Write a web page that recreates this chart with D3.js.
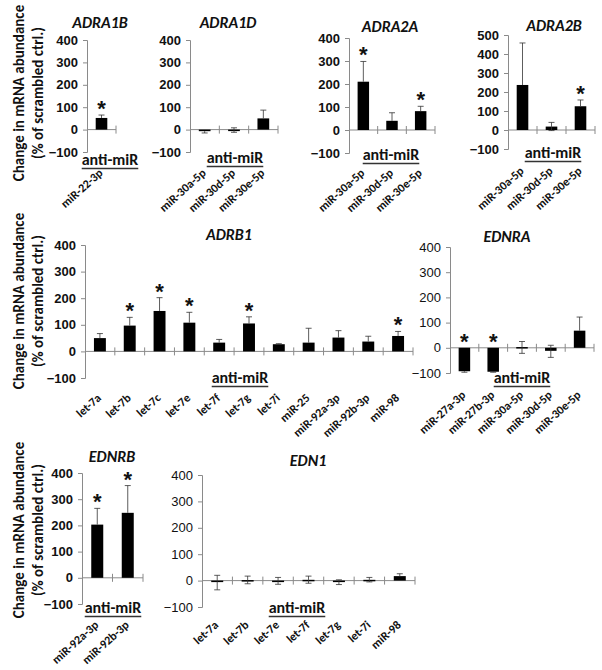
<!DOCTYPE html>
<html><head><meta charset="utf-8">
<script src="https://cdn.jsdelivr.net/npm/d3@7"></script>
<style>
body{margin:0;background:#fff;}
svg{font-family:Carlito,Calibri,Lato,"Open Sans",sans-serif;}
</style></head>
<body><svg id="c" width="602" height="670"></svg>
<script>
// ---- data ----
const adra1bCats = ["miR-22-3p"];
const adra1bVals = [52];
const adra1bHi = [65];
const adra1bLo = [null];
const adra1bSig = [true];

const adra1dCats = ["miR-30a-5p","miR-30d-5p","miR-30e-5p"];
const adra1dVals = [-7,-3,50];
const adra1dHi = [null,8,87];
const adra1dLo = [-15,-12,null];
const adra1dSig = [false,false,false];

const adra2aCats = ["miR-30a-5p","miR-30d-5p","miR-30e-5p"];
const adra2aVals = [210,40,82];
const adra2aHi = [298,75,103];
const adra2aLo = [null,null,null];
const adra2aSig = [true,false,true];

const adra2bCats = ["miR-30a-5p","miR-30d-5p","miR-30e-5p"];
const adra2bVals = [237,18,125];
const adra2bHi = [458,40,158];
const adra2bLo = [null,-3,null];
const adra2bSig = [false,false,true];

const adrb1Cats = ["let-7a","let-7b","let-7c","let-7e","let-7f","let-7g","let-7i","miR-25","miR-92a-3p","miR-92b-3p","miR-98"];
const adrb1Vals = [50,97,152,108,33,105,27,33,52,37,58];
const adrb1Hi = [67,128,202,147,45,130,29,87,78,57,75];
const adrb1Lo = [null,null,null,null,null,null,null,null,null,null,null];
const adrb1Sig = [false,true,true,true,false,true,false,false,false,false,true];

const ednraCats = ["miR-27a-3p","miR-27b-3p","miR-30a-5p","miR-30d-5p","miR-30e-5p"];
const ednraVals = [-93,-95,3,-12,68];
const ednraHi = [null,null,25,10,122];
const ednraLo = [-97,-97,-22,-38,null];
const ednraSig = [true,true,false,false,false];

const ednrbCats = ["miR-92a-3p","miR-92b-3p"];
const ednrbVals = [203,248];
const ednrbHi = [265,352];
const ednrbLo = [null,null];
const ednrbSig = [true,true];

const edn1Cats = ["let-7a","let-7b","let-7e","let-7f","let-7g","let-7i","miR-98"];
const edn1Vals = [-5,2,-2,3,-5,3,17];
const edn1Hi = [20,17,12,17,3,12,26];
const edn1Lo = [-35,-12,-14,-10,-15,-5,null];
const edn1Sig = [false,false,false,false,false,false,false];

const ticks400 = [-100,0,100,200,300,400];
const ticks500 = [-100,0,100,200,300,400,500];

const yTitle1 = "Change in mRNA abundance";
const yTitle2 = "(% of scrambled ctrl.)";
const groupLabel = "anti-miR";

// ---- layout ----
const panels = [
  {title:"ADRA1B", cats:adra1bCats, vals:adra1bVals, hi:adra1bHi, lo:adra1bLo, sig:adra1bSig, ticks:ticks400,
   x0:87, x1:116, yTop:40, yBot:152, titleX:100, titleY:28, groupX:110, groupY:165, labY:174, bold:true},
  {title:"ADRA1D", cats:adra1dCats, vals:adra1dVals, hi:adra1dHi, lo:adra1dLo, sig:adra1dSig, ticks:ticks400,
   x0:190, x1:278, yTop:40, yBot:152, titleX:228, titleY:28, groupX:235, groupY:163, labY:174, bold:true},
  {title:"ADRA2A", cats:adra2aCats, vals:adra2aVals, hi:adra2aHi, lo:adra2aLo, sig:adra2aSig, ticks:ticks400,
   x0:349, x1:435, yTop:38, yBot:153, titleX:390, titleY:32, groupX:391, groupY:160, labY:174, bold:true},
  {title:"ADRA2B", cats:adra2bCats, vals:adra2bVals, hi:adra2bHi, lo:adra2bLo, sig:adra2bSig, ticks:ticks500,
   x0:508, x1:595, yTop:35, yBot:149, titleX:554, titleY:31, groupX:553, groupY:158, labY:172, bold:true},
  {title:"ADRB1", cats:adrb1Cats, vals:adrb1Vals, hi:adrb1Hi, lo:adrb1Lo, sig:adrb1Sig, ticks:ticks400,
   x0:85, x1:413, yTop:245, yBot:378, titleX:229, titleY:240, groupX:240, groupY:383, labY:399, bold:true},
  {title:"EDNRA", cats:ednraCats, vals:ednraVals, hi:ednraHi, lo:ednraLo, sig:ednraSig, ticks:ticks400,
   x0:450, x1:594, yTop:247, yBot:373, titleX:507, titleY:242, groupX:522, groupY:383, labY:396, bold:false},
  {title:"EDNRB", cats:ednrbCats, vals:ednrbVals, hi:ednrbHi, lo:ednrbLo, sig:ednrbSig, ticks:ticks400,
   x0:82, x1:143, yTop:473, yBot:604, titleX:112, titleY:462, groupX:113, groupY:613, labY:626, bold:true},
  {title:"EDN1", cats:edn1Cats, vals:edn1Vals, hi:edn1Hi, lo:edn1Lo, sig:edn1Sig, ticks:ticks400,
   x0:202, x1:415, yTop:475, yBot:607, titleX:308, titleY:466, groupX:297, groupY:613, labY:626, bold:false}
];

const svg = d3.select("#c");
const axisCol = "#8a8a8a";
const txtCol = "#111";

panels.forEach(p => {
  const g = svg.append("g");
  const yMax = d3.max(p.ticks), yMin = d3.min(p.ticks);
  const y = d3.scaleLinear().domain([yMin, yMax]).range([p.yBot, p.yTop]);
  const x = d3.scaleBand().domain(p.cats).range([p.x0, p.x1]).paddingInner(0).paddingOuter(0);
  const bw = Math.min(12, x.bandwidth()*0.4);

  // y axis
  const yAxis = d3.axisLeft(y).tickValues(p.ticks).tickSize(4).tickPadding(5).tickFormat(d3.format("d"));
  const ya = g.append("g").attr("transform",`translate(${p.x0},0)`).call(yAxis);
  ya.select(".domain").attr("stroke",axisCol).attr("stroke-width",1);
  ya.selectAll(".tick line").attr("stroke",axisCol);
  ya.selectAll(".tick text").attr("fill",txtCol).attr("font-size",13)
    .attr("font-weight",p.bold?"bold":"normal");

  // zero line with category separators
  const y0 = y(0);
  g.append("line").attr("x1",p.x0).attr("x2",p.x1).attr("y1",y0).attr("y2",y0)
    .attr("stroke",axisCol).attr("stroke-width",1);
  const seps = p.cats.map(c => x(c) + x.bandwidth());
  g.selectAll(".sep").data(seps).enter().append("line")
    .attr("x1",d=>d).attr("x2",d=>d).attr("y1",y0-4).attr("y2",y0+4)
    .attr("stroke",axisCol).attr("stroke-width",1);

  // bars
  p.cats.forEach((c,i) => {
    const cx = x(c) + x.bandwidth()/2;
    const v = p.vals[i];
    g.append("rect").attr("x",cx-bw/2).attr("width",bw)
      .attr("y",Math.min(y(v),y0)).attr("height",Math.max(1.5,Math.abs(y(v)-y0)))
      .attr("fill","#000");
    // error bars
    const ec = "#333";
    if (p.hi[i] !== null) {
      g.append("line").attr("x1",cx).attr("x2",cx).attr("y1",y(v)).attr("y2",y(p.hi[i])).attr("stroke",ec).attr("stroke-width",0.8);
      g.append("line").attr("x1",cx-3).attr("x2",cx+3).attr("y1",y(p.hi[i])).attr("y2",y(p.hi[i])).attr("stroke",ec).attr("stroke-width",0.8);
    }
    if (p.lo[i] !== null) {
      g.append("line").attr("x1",cx).attr("x2",cx).attr("y1",y(v)).attr("y2",y(p.lo[i])).attr("stroke",ec).attr("stroke-width",0.8);
      g.append("line").attr("x1",cx-3).attr("x2",cx+3).attr("y1",y(p.lo[i])).attr("y2",y(p.lo[i])).attr("stroke",ec).attr("stroke-width",0.8);
    }
    if (p.sig[i]) {
      const top = Math.max(v, p.hi[i] !== null ? p.hi[i] : v, 0);
      g.append("text").attr("x",cx).attr("y",y(top)+1).attr("text-anchor","middle")
        .attr("font-size",22).attr("font-weight","bold").attr("fill",txtCol)
        .attr("font-family","Liberation Sans, Arial, sans-serif").text("*");
    }
    // category label
    g.append("text").attr("transform",`translate(${cx+2},${p.labY}) rotate(-42)`)
      .attr("text-anchor","end").attr("font-size",12).attr("font-weight","bold")
      .attr("fill",txtCol).text(c);
  });

  // group label with underline
  const gl = g.append("text").attr("x",p.groupX).attr("y",p.groupY).attr("text-anchor","middle")
    .attr("font-size",16).attr("font-weight","bold").attr("fill",txtCol).text(groupLabel);
  const w = gl.node().getComputedTextLength();
  g.append("line").attr("x1",p.groupX-w/2).attr("x2",p.groupX+w/2)
    .attr("y1",p.groupY+3.5).attr("y2",p.groupY+3.5).attr("stroke","#333").attr("stroke-width",1.5);

  // title
  g.append("text").attr("x",p.titleX).attr("y",p.titleY).attr("text-anchor","middle")
    .attr("font-size",16).attr("font-weight","bold").attr("font-style","italic")
    .attr("fill",txtCol).text(p.title);
});

// y titles for each row
[93, 301, 530].forEach(cy => {
  svg.append("text").attr("transform",`translate(19,${cy}) rotate(-90)`)
    .attr("text-anchor","middle").attr("dominant-baseline","central")
    .attr("font-size",15).attr("font-weight","bold").attr("fill",txtCol).text(yTitle1);
  svg.append("text").attr("transform",`translate(38,${cy}) rotate(-90)`)
    .attr("text-anchor","middle").attr("dominant-baseline","central")
    .attr("font-size",15).attr("font-weight","bold").attr("fill",txtCol).text(yTitle2);
});
</script></body></html>
